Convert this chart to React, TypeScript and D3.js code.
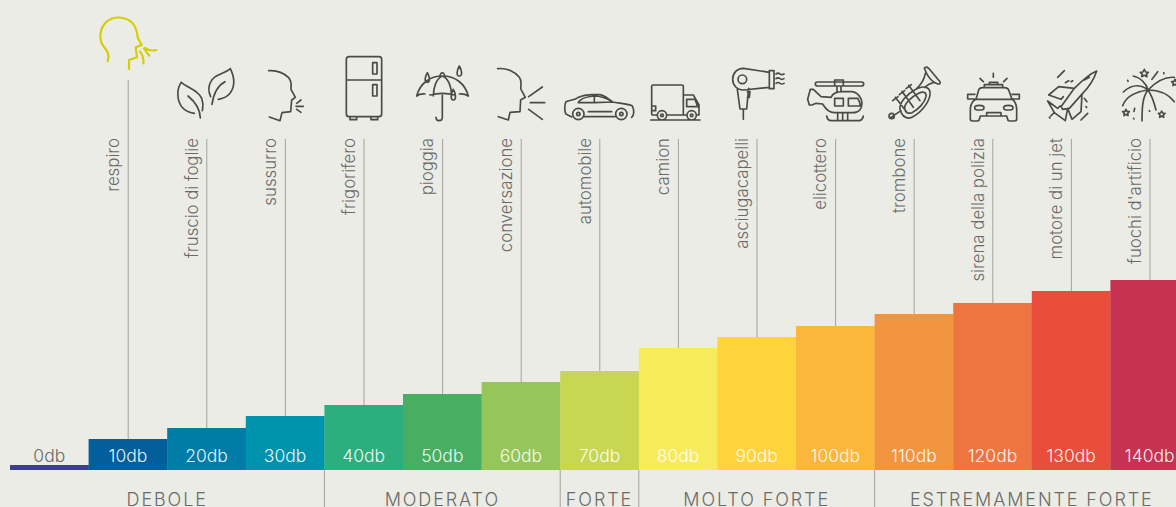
/**
 * SoundScale — stepped decibel chart with a line icon above each level.
 */

import * as d3 from 'd3';

// ─── Data ───────────────────────────────────────────────────

const LEVELS = ['0db', '10db', '20db', '30db', '40db', '50db', '60db', '70db', '80db', '90db', '100db', '110db', '120db', '130db', '140db'];
const SOURCES = ['', 'respiro', 'fruscio di foglie', 'sussurro', 'frigorifero', 'pioggia', 'conversazione', 'automobile', 'camion', 'asciugacapelli', 'elicottero', 'trombone', 'sirena della polizia', 'motore di un jet', "fuochi d'artificio"];
// visual bar heights (not proportional to dB)
const HEIGHTS = [5, 31, 42, 54, 65, 76, 88, 99, 122, 133, 144, 156, 167, 179, 190];
const COLORS = ['#3c3f8e', '#025f9c', '#007ca9', '#0093ae', '#2dae7e', '#47ae62', '#96c55a', '#c8d651', '#f7ea5b', '#ffd33b', '#fbb63c', '#f29540', '#ef7540', '#e94d3b', '#c63352'];
const GROUP_NAMES = ['DEBOLE', 'MODERATO', 'FORTE', 'MOLTO FORTE', 'ESTREMAMENTE FORTE'];
const GROUP_FIRST = ['0db', '40db', '70db', '80db', '110db'];
const GROUP_LAST = ['30db', '60db', '70db', '100db', '140db'];

// ─── Constants ──────────────────────────────────────────────

const WIDTH = 1176;
const HEIGHT = 507;
const BASE_Y = 470;
const BG = '#ebece6';
const INK = '#4a4a46';
const FONT = 'Inter, "Liberation Sans", Arial, sans-serif';

// Icon outlines, drawn at 3x in a local frame and scaled down in place
const ICONS: { ox: number; oy: number; color?: string; width?: number; d: string }[] = [
  // respiro
  { ox: 0, oy: 0, color: '#d4cf00', width: 6.5, d: 'M323,184 C330,165 322,152 310,138 C296,120 298,85 320,65 C345,45 385,50 402,75 C412,90 411,105 414,115 L425,135 L407,142 L411,172 L387,180 L387,207 M420,155 Q432,170 430,190 M432,145 Q440,158 448,167 M434,144 Q450,155 469,150' },
  // foglie
  { ox: 0, oy: 0, d: 'M544,247 C530,265 530,300 545,320 C555,332 570,338 583,340 M544,247 C565,265 595,270 605,295 C612,315 608,325 607,332 M564,288 C585,305 600,325 601,354 M691,206 C675,222 640,222 630,250 C622,270 628,280 632,290 M691,206 C705,235 705,260 690,280 C680,292 665,297 655,298 M675,245 C650,258 640,285 636,313' },
  // sussurro
  { ox: 0, oy: 0, d: 'M806,212 C830,210 850,218 865,232 C878,245 872,260 873,268 L886,292 L875,300 L872,335 L846,338 L840,362 L808,351 M890,310 L903,300 M888,319 L910,319 M890,328 L903,337' },
  // frigorifero
  { ox: 0, oy: 0, d: 'M1047,170 H1137 Q1145,170 1145,178 V342 Q1145,350 1137,350 H1047 Q1039,350 1039,342 V178 Q1039,170 1047,170 Z M1039,240 H1145 M1118,188 H1131 V222 H1118 Z M1118,254 H1131 V288 H1118 Z M1050,350 V359 H1070 V350 M1113,350 V359 H1133 V350' },
  // ombrello
  { ox: 400, oy: 40, d: 'M50,168 C60,130 90,108 127,108 C165,108 195,130 205,168 M100,168 C100,140 110,115 127,108 C145,115 155,140 155,168 M50,168 Q60,160 75,162 M90,165 Q127,155 165,165 M178,162 Q192,160 205,168 M127,165 L127,232 Q127,242 117,242 Q108,242 108,232 M178,78 C170,92 168,108 178,108 C188,108 186,92 178,78 Z M82,98 C75,110 72,127 82,127 C92,127 89,110 82,98 Z M160,148 C153,160 150,180 160,180 C170,180 167,160 160,148 Z M120,106 Q127,90 134,106' },
  // conversazione
  { ox: 400, oy: 40, d: 'M293,86 C320,83 345,95 358,112 C368,125 360,140 363,148 L376,172 L362,180 L360,215 L330,217 L325,240 L295,230 M386,170 L427,141 M391,188 L434,188 M386,208 L427,238' },
  // automobile
  { ox: 400, oy: 40, d: 'M515,231 L498,222 C493,215 493,195 498,185 C510,180 525,180 535,172 C550,165 560,164 575,164 L600,164 C615,166 625,178 638,186 C660,190 690,192 697,198 C703,210 703,225 695,232 M535,188 C540,176 560,170 583,168 L583,188 Z M583,168 C600,168 620,175 638,186 L583,188 M553,230 L645,230 M565,215 L635,215 M552,222 A17,17 0 1 1 518,222 A17,17 0 1 1 552,222 Z M681,222 A17,17 0 1 1 647,222 A17,17 0 1 1 681,222 Z M540,222 A5,5 0 1 1 530,222 A5,5 0 1 1 540,222 Z M669,222 A5,5 0 1 1 659,222 A5,5 0 1 1 669,222 Z' },
  // camion
  { ox: 400, oy: 40, d: 'M772,225 H759 Q755,225 755,221 V139 Q755,135 759,135 H846 Q850,135 850,139 V225 H800 M850,165 H880 L897,195 V225 H890 M860,225 H850 M860,178 H885 L893,200 H860 Z M755,198 H767 V212 H755 M752,240 H900 M800,226 A14,14 0 1 1 772,226 A14,14 0 1 1 800,226 Z M889,226 A14,14 0 1 1 861,226 A14,14 0 1 1 889,226 Z M790,226 A4,4 0 1 1 782,226 A4,4 0 1 1 790,226 Z M879,226 A4,4 0 1 1 871,226 A4,4 0 1 1 879,226 Z' },
  // asciugacapelli
  { ox: 400, oy: 40, d: 'M1030,85 L1108,97 V142 L1030,150 C1010,150 998,135 998,118 C998,100 1010,85 1030,85 Z M1108,92 H1122 V146 H1108 Z M1040,118 A13,13 0 1 1 1014,118 A13,13 0 1 1 1040,118 Z M1012,148 L1020,207 H1040 L1046,145 M1030,207 V238 M1042,155 H1050 L1048,172 H1042 M1128,102 Q1134,97 1140,102 Q1146,106 1152,102 M1128,116 Q1134,111 1140,116 Q1146,120 1152,116 M1128,130 Q1134,125 1140,130 Q1146,134 1152,130' },
  // elicottero
  { ox: 776, oy: 40, d: 'M124,126 H257 Q263,126 263,132 Q263,138 257,138 H124 Q118,138 118,132 Q118,126 124,126 Z M176,120 H202 V138 H176 Z M183,138 V155 M195,138 V155 M135,170 L165,172 C170,160 185,155 200,155 L225,155 C245,155 258,175 258,190 C258,205 250,218 230,218 L175,218 C155,218 145,200 140,192 L120,190 L108,195 L100,195 L95,178 L103,148 L112,148 Z M176,175 H202 V198 H176 Z M217,175 H245 Q252,185 253,198 H217 Z M152,228 Q155,242 165,242 H250 Q260,240 262,228 M185,218 V242 M200,218 V242 M215,218 V242' },
  // tromba
  { ox: 776, oy: 40, d: 'M445,85 Q450,78 458,85 L492,125 Q495,133 485,132 C470,128 455,112 445,85 Z M448,100 C445,118 436,132 422,146 M472,128 C462,130 455,134 446,142 M372,208 C368,190 392,162 422,146 C448,134 465,145 462,165 C458,190 432,222 405,233 C388,238 378,228 372,208 Z M386,206 C384,192 404,172 428,160 C444,152 452,158 450,170 C446,188 428,208 408,218 C396,222 388,218 386,206 Z M358,172 L392,216 M378,154 L412,202 M398,136 L432,182 M350,182 L366,170 M370,164 L386,152 M390,146 L406,134 M375,212 L345,232 M355,228 A8,8 0 1 1 339,228 A8,8 0 1 1 355,228 Z' },
  // polizia
  { ox: 776, oy: 40, d: 'M600,178 L608,150 Q610,143 620,143 H685 Q695,143 698,150 L708,178 M600,178 Q585,185 583,205 V238 Q583,243 590,243 H603 Q610,243 610,238 L613,228 H692 L695,238 Q695,243 702,243 H715 Q722,243 722,238 V205 Q720,185 708,178 Z M600,178 H708 M625,142 V134 H680 V142 M640,134 V127 H665 V134 M597,163 H575 V177 H597 M708,163 H730 V177 H708 M596,203 Q596,196 610,196 Q624,196 624,203 Q624,210 610,210 Q596,210 596,203 Z M683,203 Q683,196 697,196 Q711,196 711,203 Q711,210 697,210 Q683,210 683,203 Z M632,228 V218 H675 V228 M652,100 V112 M612,115 L622,125 M693,115 L683,125' },
  // jet
  { ox: 776, oy: 40, d: 'M962,93 C940,102 915,125 895,145 L855,200 L860,208 L880,205 L920,160 C940,140 955,115 962,93 Z M895,145 L848,140 L818,165 L855,178 L862,170 M918,162 L915,215 L888,238 L875,205 M852,198 L845,205 L815,183 L835,218 L868,242 L875,205 M925,120 L940,112 M845,112 L865,92 M915,240 L935,220 M824,228 L835,218 M868,128 L878,122 M925,175 L933,185 M820,232 L822,234 M930,200 L932,202 M885,125 L890,122' },
  // fuochi
  { ox: 776, oy: 40, d: 'M1116,150 C1090,130 1065,135 1042,156 M1116,150 C1080,155 1050,170 1040,197 M1116,150 C1100,170 1098,200 1098,242 M1116,150 C1130,170 1135,190 1140,210 M1116,150 C1140,125 1170,110 1195,112 M1116,150 C1145,150 1175,160 1195,185 M1116,150 C1110,130 1100,115 1072,108 M1128,118 L1145,95 M1105,88 L1109,96 L1117,97 L1111,103 L1113,110 L1105,106 L1097,110 L1099,103 L1093,97 L1101,96 Z M1050,208 L1053,214 L1060,215 L1055,220 L1056,227 L1050,223 L1044,227 L1045,220 L1040,215 L1047,214 Z M1157,213 L1160,219 L1167,220 L1162,225 L1163,232 L1157,228 L1151,232 L1152,225 L1147,220 L1154,219 Z M1197,118 L1200,124 L1207,125 L1202,130 L1203,137 L1197,133 L1191,137 L1192,130 L1187,125 L1194,124 Z M1076,205 L1074,214 M1055,121 L1056,124 M1163,98 L1164,101 M1120,212 L1121,214 M1073,235 L1074,237' },
];

// ─── Component ──────────────────────────────────────────────

export default function App() {
  const x = d3.scaleBand<string>().domain(LEVELS).range([10, 1189]);
  const y = d3.scaleLinear().domain([0, 190]).range([BASE_Y, 280]);
  const mid = (l: string) => (x(l) as number) + x.bandwidth() / 2;

  return (
    <svg
      width={WIDTH}
      height={HEIGHT}
      style={{ position: 'absolute', left: 0, top: 0, background: BG, fontFamily: FONT, fontWeight: 300 }}
    >
      {/* Icons */}
      {ICONS.map((ic, i) => (
        <path
          key={i}
          transform={`translate(${ic.ox},${ic.oy}) scale(${1 / 3})`}
          d={ic.d}
          fill="none"
          stroke={ic.color ?? INK}
          strokeWidth={ic.width ?? 5}
          strokeLinejoin="round"
          strokeLinecap="round"
        />
      ))}

      {/* Leader lines and source names */}
      {LEVELS.map((l, i) => {
        if (!SOURCES[i]) return null;
        const cx = mid(l);
        return (
          <g key={l}>
            <line x1={cx + 0.3} x2={cx + 0.3} y1={i === 1 ? 80 : 139} y2={y(HEIGHTS[i])} stroke="#a3a39e" strokeWidth={1} />
            <text
              transform={`translate(${cx - 9},138) rotate(-90)`}
              textAnchor="end"
              fontSize={16.8}
              fill="#6a6a66"
            >
              {SOURCES[i]}
            </text>
          </g>
        );
      })}

      {/* Bars */}
      {LEVELS.map((l, i) => (
        <rect key={l} x={x(l)} y={y(HEIGHTS[i])} width={x.bandwidth() + 0.3} height={BASE_Y - y(HEIGHTS[i])} fill={COLORS[i]} />
      ))}

      {/* Level labels */}
      {LEVELS.map((l, i) => (
        <text
          key={l}
          x={mid(l)}
          y={461.5}
          textAnchor="middle"
          fontSize={17.5}
          fill={i === 0 ? '#6a6a66' : 'rgba(255,255,255,0.92)'}
        >
          {l}
        </text>
      ))}

      {/* Group separators and names */}
      {GROUP_NAMES.map((name, i) => {
        const x0 = x(GROUP_FIRST[i]) as number;
        const x1 = (x(GROUP_LAST[i]) as number) + x.bandwidth();
        return (
          <g key={name}>
            {i > 0 && <line x1={x0} x2={x0} y1={BASE_Y} y2={HEIGHT} stroke="#a3a39e" strokeWidth={1} />}
            <text x={(x0 + x1) / 2} y={506} textAnchor="middle" fontSize={18} letterSpacing={1.9} fill="#6a6a66">
              {name}
            </text>
          </g>
        );
      })}
    </svg>
  );
}
